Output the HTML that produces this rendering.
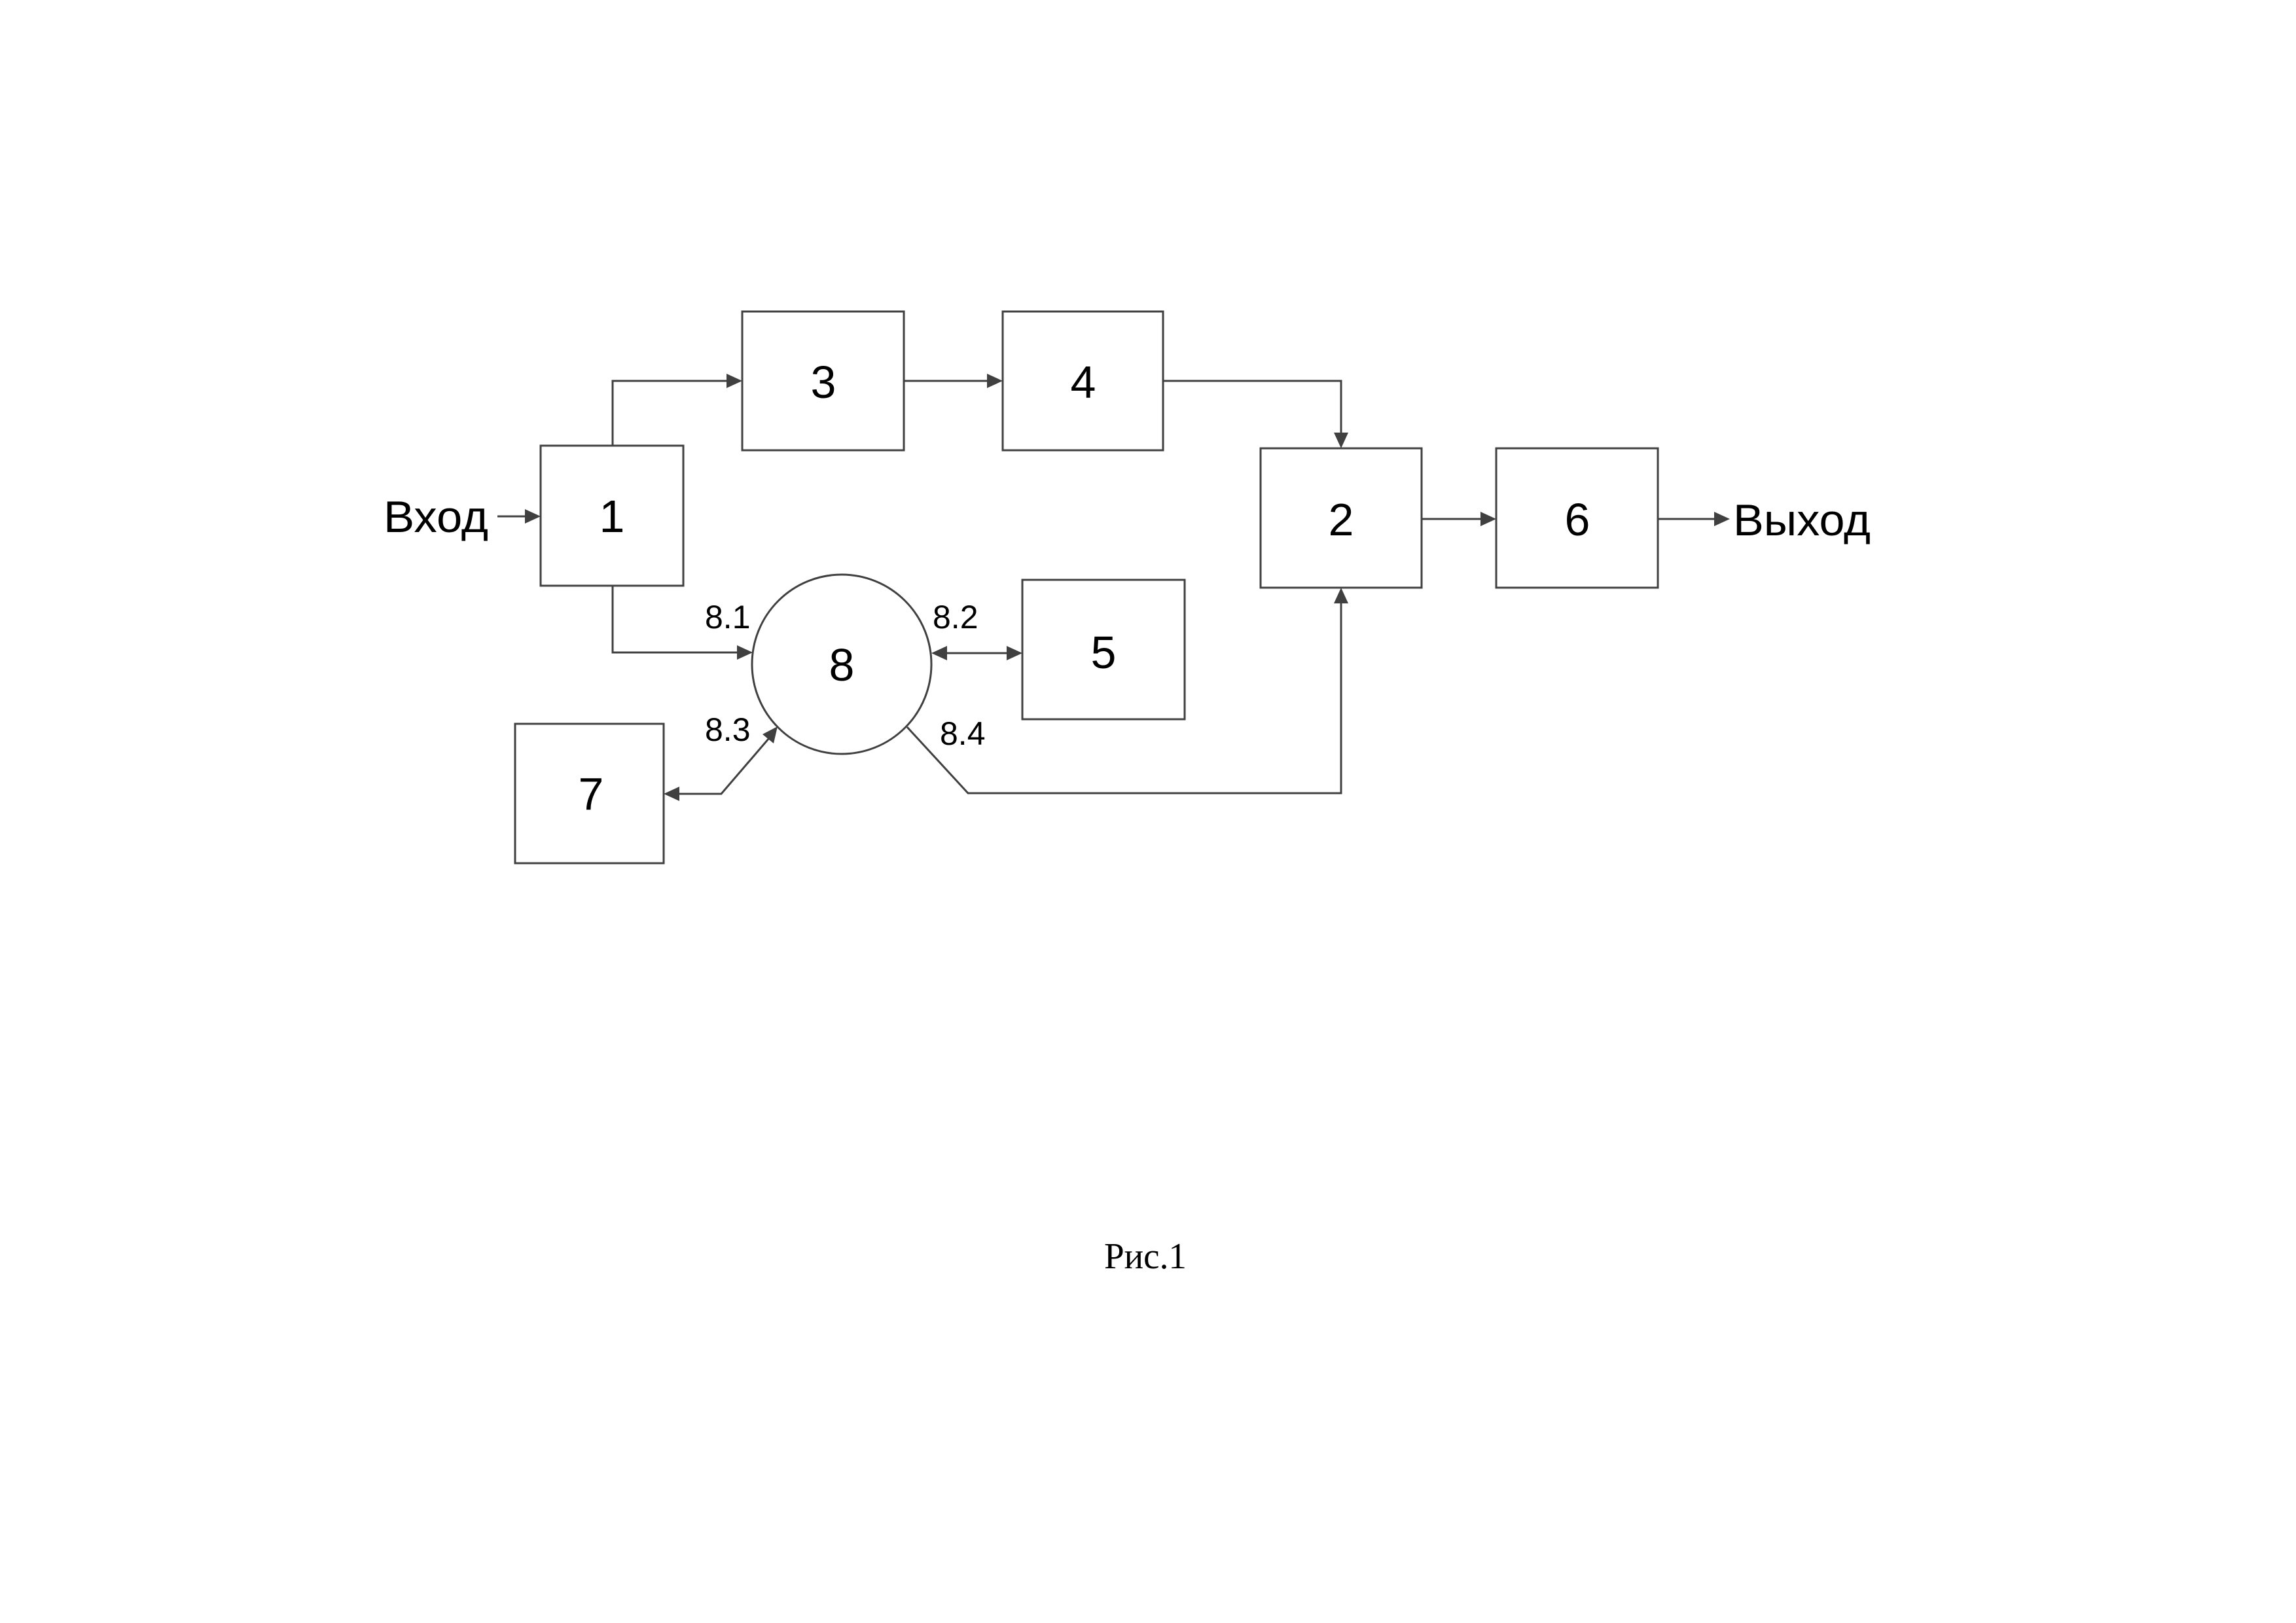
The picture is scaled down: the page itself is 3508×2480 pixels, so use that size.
<!DOCTYPE html>
<html><head><meta charset="utf-8"><style>
html,body{margin:0;padding:0;background:#fff}
svg{display:block}
.t{font-family:"Liberation Sans","DejaVu Sans",sans-serif;fill:#000}
</style></head><body>
<svg width="3508" height="2480" viewBox="0 0 3508 2480" xmlns="http://www.w3.org/2000/svg">
<defs>
<marker id="a" markerWidth="10" markerHeight="10" refX="9" refY="5" orient="auto-start-reverse" markerUnits="userSpaceOnUse" viewBox="0 0 10 10">
</marker>
</defs>
<g fill="none" stroke="#404040" stroke-width="3">
<rect x="826" y="681" width="218" height="214"/>
<rect x="1134" y="476" width="247" height="212"/>
<rect x="1532" y="476" width="245" height="212"/>
<rect x="1926" y="685" width="246" height="213"/>
<rect x="2286" y="685" width="247" height="213"/>
<rect x="1562" y="886" width="248" height="213"/>
<rect x="787" y="1106" width="227" height="213"/>
<circle cx="1286" cy="1015" r="137"/>
<polyline points="936,681 936,582 1112,582"/>
<line x1="1381" y1="582" x2="1510" y2="582"/>
<polyline points="1777,582 2049,582 2049,663"/>
<line x1="2172" y1="793" x2="2264" y2="793"/>
<line x1="2533" y1="793" x2="2621" y2="793"/>
<line x1="760" y1="789" x2="804" y2="789"/>
<polyline points="936,895 936,997 1128,997"/>
<line x1="1445" y1="998" x2="1540" y2="998"/>
<polyline points="1036,1213 1102,1213 1175,1128"/>
<polyline points="1386,1111 1479,1212 2049,1212 2049,920"/>
</g>
<g fill="#404040">
<polygon points="1134,582 1110,571 1110,593"/>
<polygon points="1532,582 1508,571 1508,593"/>
<polygon points="2049,685 2038,661 2060,661"/>
<polygon points="2286,793 2262,782 2262,804"/>
<polygon points="2643,793 2619,782 2619,804"/>
<polygon points="826,789 802,778 802,800"/>
<polygon points="1150,997 1126,986 1126,1008"/>
<polygon points="1423,998 1447,987 1447,1009"/>
<polygon points="1562,998 1538,987 1538,1009"/>
<polygon points="1014,1213 1038,1202 1038,1224"/>
<polygon points="1188,1110 1182,1136 1165,1122"/>
<polygon points="2049,898 2038,922 2060,922"/>
</g>
<g class="t" font-size="70" text-anchor="middle">
<text x="935" y="813">1</text>
<text x="1258" y="608">3</text>
<text x="1655" y="608">4</text>
<text x="2049" y="818">2</text>
<text x="2410" y="818">6</text>
<text x="1686" y="1021">5</text>
<text x="903" y="1237">7</text>
<text x="1286" y="1040">8</text>
</g>
<g class="t" font-size="68">
<text x="586" y="813" textLength="160" lengthAdjust="spacingAndGlyphs">Вход</text>
<text x="2648" y="818" textLength="210" lengthAdjust="spacingAndGlyphs">Выход</text>
</g>
<g class="t" font-size="50">
<text x="1077" y="960">8.1</text>
<text x="1425" y="960">8.2</text>
<text x="1077" y="1132">8.3</text>
<text x="1436" y="1138">8.4</text>
</g>
<text x="1687" y="1938" font-family="'Liberation Serif',serif" font-size="56" textLength="126" lengthAdjust="spacingAndGlyphs">Рис.1</text>
</svg>
</body></html>
